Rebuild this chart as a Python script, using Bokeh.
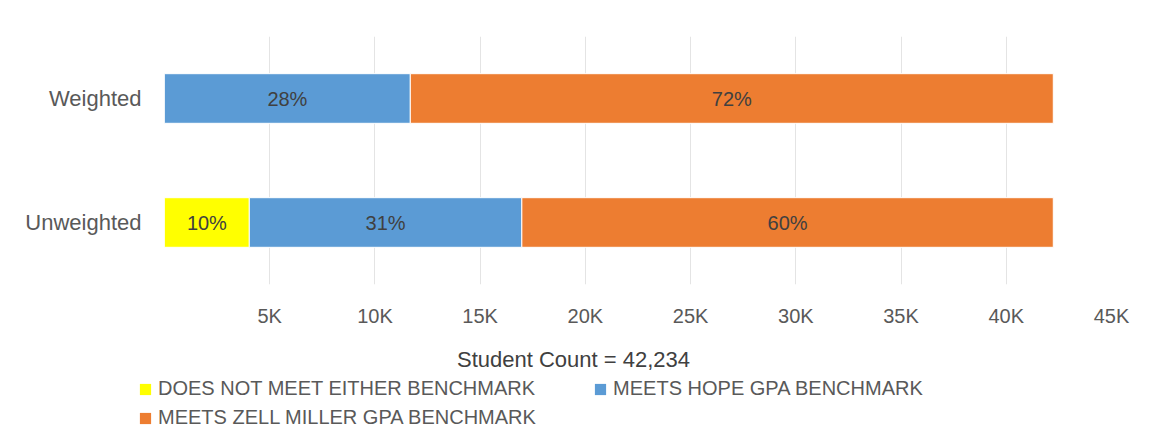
from bokeh.plotting import figure
from bokeh.models import (ColumnDataSource, FactorRange, Range1d, FixedTicker,
                          LabelSet, Label, Legend, LegendItem)
from bokeh.core.properties import value
from bokeh.embed import file_html
from bokeh.resources import INLINE

# ---- data ----
categories = ["Unweighted", "Weighted"]
not_meet = [4030, 0]
hope = [12950, 11680]
zell = [25254, 30554]
series_keys = ["not_meet", "hope", "zell"]
series_names = ["DOES NOT MEET EITHER BENCHMARK", "MEETS HOPE GPA BENCHMARK",
                "MEETS ZELL MILLER GPA BENCHMARK"]
series_colors = ["#FFFF00", "#5B9BD5", "#ED7D31"]
x_ticks = [0, 5000, 10000, 15000, 20000, 25000, 30000, 35000, 40000, 45000]
x_tick_labels = ["", "5K", "10K", "15K", "20K", "25K", "30K", "35K", "40K", "45K"]
student_count = 42234

FONT = "Liberation Sans"
GREY = "#595959"
W = 1146
H1 = 336
H2 = 101

source = ColumnDataSource(data=dict(cat=categories, not_meet=not_meet, hope=hope, zell=zell))

p = figure(width=W, height=H1,
           y_range=FactorRange(factors=categories, range_padding=0),
           x_range=Range1d(0, 45000),
           output_backend="svg", toolbar_location=None,
           min_border_left=164, min_border_right=35,
           min_border_top=36, min_border_bottom=52)
p.outline_line_color = None
p.background_fill_color = "white"
p.border_fill_color = "white"

renderers = p.hbar_stack(series_keys, y="cat", height=0.4, color=series_colors,
                         line_color="white", line_width=1, source=source)

# percentage labels
lab_x, lab_y, lab_t = [], [], []
series_vals = [not_meet, hope, zell]
for i, cat in enumerate(categories):
    total = sum(s[i] for s in series_vals)
    start = 0
    for s in series_vals:
        v = s[i]
        if v > 0:
            lab_x.append(start + v / 2)
            lab_y.append(cat)
            lab_t.append(f"{round(v / total * 100)}%")
        start += v
lab_src = ColumnDataSource(data=dict(x=lab_x, y=lab_y, t=lab_t))
p.add_layout(LabelSet(x="x", y="y", text="t", source=lab_src,
                      text_align="center", text_baseline="middle",
                      text_font=value(FONT), text_font_size="20px", text_color="#404040"))

# axes
ticker = FixedTicker(ticks=x_ticks)
xa = p.xaxis[0]
xa.ticker = ticker
xa.major_label_overrides = {t: l for t, l in zip(x_ticks, x_tick_labels)}
xa.axis_line_color = None
xa.major_tick_line_color = None
xa.minor_tick_line_color = None
xa.major_tick_out = 0
xa.major_label_standoff = 20
xa.major_label_text_font = FONT
xa.major_label_text_font_size = "20px"
xa.major_label_text_color = GREY

ya = p.yaxis[0]
ya.axis_line_color = None
ya.major_tick_line_color = None
ya.major_tick_out = 0
ya.major_label_standoff = 23
ya.major_label_text_font = FONT
ya.major_label_text_font_size = "22px"
ya.major_label_text_color = GREY

p.xgrid.ticker = ticker
p.xgrid.grid_line_color = "#e4e4e4"
p.ygrid.visible = False

# ---- lower panel: axis title + legend ----
p2 = figure(width=W, height=H2, x_range=Range1d(0, W), y_range=Range1d(0, H2),
            x_axis_type=None, y_axis_type=None,
            output_backend="svg", toolbar_location=None,
            min_border=0, min_border_left=0, min_border_right=0,
            min_border_top=0, min_border_bottom=0)
p2.outline_line_color = None
p2.grid.visible = False
p2.background_fill_color = "white"
p2.border_fill_color = "white"

p2.add_layout(Label(x=573, y=H2 - 23, text=f"Student Count = {student_count:,}",
                    text_align="center", text_baseline="middle",
                    text_font=FONT, text_font_size="22px", text_color="#404040"))

# zero-width proxy bars so the legend can show the series swatches
proxy_src = ColumnDataSource(data=dict(y=[0], right=[0]))
proxies = [p2.hbar(y="y", right="right", height=1, fill_color=c, line_color=None,
                   source=proxy_src) for c in series_colors]

def make_legend(items, loc):
    return Legend(items=items, location=loc, orientation="horizontal",
                  glyph_width=14, glyph_height=14, label_standoff=6, spacing=58,
                  padding=0, margin=0, border_line_color=None, background_fill_alpha=0,
                  label_text_font=FONT, label_text_font_size="20px", label_text_color=GREY)

items = [LegendItem(label=n, renderers=[r]) for n, r in zip(series_names, proxies)]
p2.add_layout(make_legend(items[:2], (138, H2 - 64)))
p2.add_layout(make_legend(items[2:], (138, H2 - 93)))

open("out.html", "w").write(file_html([p, p2], INLINE))
